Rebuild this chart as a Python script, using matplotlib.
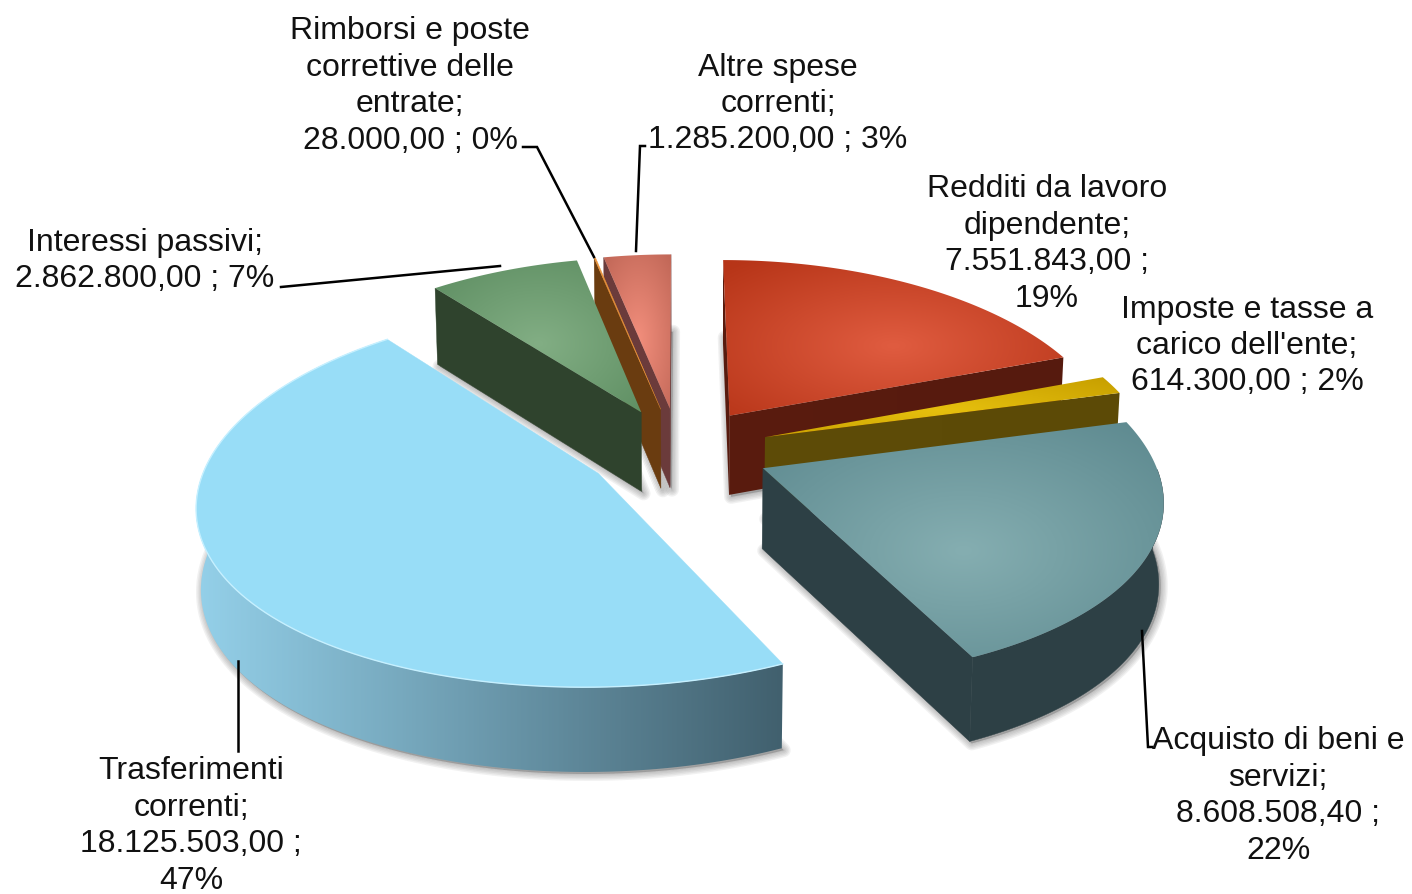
import numpy as np
import matplotlib
matplotlib.use("Agg")
import matplotlib.pyplot as plt
from matplotlib.colors import LinearSegmentedColormap
from matplotlib.patches import Polygon

plt.rcParams["font.family"] = ["Liberation Sans", "DejaVu Sans"]

# Slices, clockwise from 12 o'clock
values = [7551843.00, 614300.00, 8608508.40, 18125503.00, 2862800.00, 28000.00, 1285200.00]
labels = [
    "Redditi da lavoro\ndipendente;\n7.551.843,00 ;\n19%",
    "Imposte e tasse a\ncarico dell'ente;\n614.300,00 ; 2%",
    "Acquisto di beni e\nservizi;\n8.608.508,40 ;\n22%",
    "Trasferimenti\ncorrenti;\n18.125.503,00 ;\n47%",
    "Interessi passivi;\n2.862.800,00 ; 7%",
    "Rimborsi e poste\ncorrettive delle\nentrate;\n28.000,00 ; 0%",
    "Altre spese\ncorrenti;\n1.285.200,00 ; 3%",
]

# Label anchors and leader lines, in pixels
label_pos = [(1047, 244), (1247, 346), (1278, 796), (191, 826), (145, 261), (410, 86), (778, 104)]
leaders = [
    None,
    None,
    [(1152, 748), (1148, 748), (1142, 632)],
    [(238, 752), (238, 662)],
    [(281, 288), (500, 267)],
    [(523, 148), (537, 148), (594, 258)],
    [(645, 147), (640, 147), (636, 252)],
]

# Colours per slice: top centre, top edge, wall near, wall far
top_in = ["#e05c40", "#e6c00e", "#85aeb1", "#98ddf7", "#82ae84", "#e8923a", "#f28e7c"]
top_out = ["#b73518", "#c8a000", "#5e8a90", "#98ddf7", "#5e8e62", "#e8923a", "#c26858"]
wall_l = ["#5a1c0f", "#5e4c08", "#2d4045", "#94d0e9", "#2f432d", "#6a3c10", "#6b3b3b"]
wall_r = ["#561a0e", "#5c4a06", "#2d4045", "#41606e", "#2f432d", "#6a3c10", "#6b3b3b"]

# Pie geometry
CX, CY = 679, 451
RX, RY = 388, 182
PERSP_X = 0.15
PERSP_Y = 0.12
DEPTH = 80
explode = [0.235, 0.235, 0.235, 0.24, 0.235, 0.235, 0.235]


def project(x, y, z=0.0):
    wx = 1 + PERSP_X * y
    wy = 1 + PERSP_Y * y
    wd = 1 + 0.05 * y
    sx = 1 - 0.01 * z
    return np.column_stack([CX + RX * x / wx * sx, CY - RY * y / wy + DEPTH * z / wd])


def area(p):
    x, y = p[:, 0], p[:, 1]
    return np.sum(x * np.roll(y, -1) - np.roll(x, -1) * y)


def gradient(ax, poly, c1, c2, kind, zorder):
    x0, y0 = poly.min(axis=0)
    x1, y1 = poly.max(axis=0)
    if c1 == c2:
        ax.add_patch(Polygon(poly, closed=True, fc=c1, ec=c1, lw=0.3, zorder=zorder))
        return
    xx, yy = np.meshgrid(np.linspace(x0, x1, 200), np.linspace(y0, y1, 200))
    if kind == "radial":
        mx, my = (x0 + x1) / 2, y0 + (y1 - y0) * 0.55
        dist = np.hypot((xx - mx) / (x1 - x0 + 1), (yy - my) / (y1 - y0 + 1))
        t = np.clip(dist / 0.7, 0, 1)
    else:
        t = (xx - x0) / (x1 - x0 + 1)
    cmap = LinearSegmentedColormap.from_list("g", [c1, c2])
    im = ax.imshow(t, extent=(x0, x1, y1, y0), cmap=cmap, vmin=0, vmax=1,
                   aspect="auto", interpolation="bilinear", zorder=zorder)
    clip = Polygon(poly, closed=True, transform=ax.transData)
    im.set_clip_path(clip)


fig = plt.figure(figsize=(14.12, 8.95), dpi=100)
ax = fig.add_axes([0, 0, 1, 1])
ax.set_xlim(0, 1412)
ax.set_ylim(895, 0)
ax.axis("off")

edges = np.degrees(np.cumsum([0] + values) / sum(values) * 2 * np.pi)

# Soft shadows go under all the slices
slices = []
for i in range(len(values)):
    a0, a1 = edges[i], edges[i + 1]
    mid = np.radians((a0 + a1) / 2)
    ox, oy = explode[i] * np.sin(mid), explode[i] * np.cos(mid)
    th = np.radians(np.linspace(a0, a1, max(int(a1 - a0) * 2, 4)))
    arc_x, arc_y = ox + np.sin(th), oy + np.cos(th)
    slices.append((ox, oy, th, arc_x, arc_y))
    base = np.vstack([project(np.array([ox]), np.array([oy]), 1.0), project(arc_x, arc_y, 1.0)])
    for lw in range(2, 12, 2):
        ax.add_patch(Polygon(base + [2, 2], closed=True, fc="#555555", ec="#555555",
                             lw=lw, alpha=0.08, joinstyle="round", zorder=1))

z = 2
for i in [6, 5, 4, 0, 1, 2, 3]:
    ox, oy, th, arc_x, arc_y = slices[i]
    apex_t = project(np.array([ox]), np.array([oy]))
    apex_b = project(np.array([ox]), np.array([oy]), 1.0)
    top = project(arc_x, arc_y)
    bot = project(arc_x, arc_y, 1.0)

    # cut faces
    q_start = np.vstack([apex_t, top[:1], bot[:1], apex_b])
    q_end = np.vstack([top[-1:], apex_t, apex_b, bot[-1:]])
    for q in (q_start, q_end):
        if area(q) < 0:
            gradient(ax, q, wall_l[i] if i != 3 else wall_r[i], wall_r[i], "h", z)
            z += 1

    # outer wall, only the part that faces the viewer
    front = np.cos(th) < 0
    if front.sum() > 1:
        wall = np.vstack([top[front], bot[front][::-1]])
        gradient(ax, wall, wall_l[i], wall_r[i], "h", z)
        z += 1

    face = np.vstack([apex_t, top])
    gradient(ax, face, top_in[i], top_out[i], "radial", z)
    z += 1

    # thin light rim on the big slice
    if i == 3:
        ax.plot(top[:, 0], top[:, 1], color="#c6f0ff", lw=1.0, zorder=z)
        z += 1

for i in range(len(labels)):
    if leaders[i] is not None:
        pts = np.array(leaders[i])
        ax.plot(pts[:, 0], pts[:, 1], color="black", lw=1.8, zorder=z,
                solid_joinstyle="miter")
    ax.text(label_pos[i][0], label_pos[i][1], labels[i], ha="center", va="center",
            fontsize=23, color="#111111", linespacing=1.28, zorder=z + 1)

fig.savefig("out.png", dpi=100, facecolor="white")
